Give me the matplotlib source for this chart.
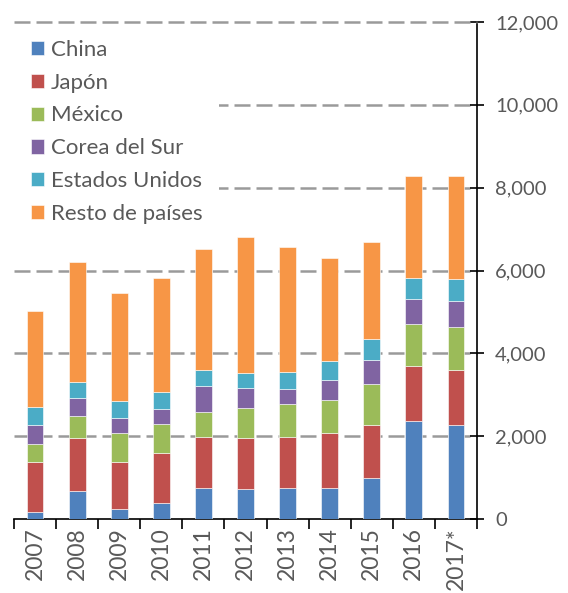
import matplotlib
matplotlib.use("Agg")
import matplotlib.pyplot as plt
import numpy as np

years = ["2007", "2008", "2009", "2010", "2011", "2012", "2013", "2014", "2015", "2016", "2017*"]
series_names = ["China", "Japón", "México", "Corea del Sur", "Estados Unidos", "Resto de países"]
china = [160, 680, 250, 395, 745, 715, 745, 745, 1000, 2370, 2275]
japon = [1220, 1275, 1130, 1200, 1235, 1240, 1235, 1320, 1275, 1315, 1315]
mexico = [440, 530, 690, 690, 595, 715, 785, 820, 975, 1025, 1050]
corea = [450, 430, 375, 370, 640, 505, 370, 465, 600, 610, 625]
eeuu = [425, 385, 395, 400, 375, 355, 410, 465, 505, 510, 520]
resto = [2330, 2895, 2625, 2765, 2930, 3285, 3015, 2485, 2325, 2455, 2485]
colors = ["#4F81BD", "#C0504D", "#9BBB59", "#8064A2", "#4BACC6", "#F79646"]

plt.rcParams['font.family'] = ['Lato', 'DejaVu Sans']
fig = plt.figure(figsize=(5.68, 5.93), dpi=100)
ax = fig.add_axes([14/568, 74/593, (477-14)/568, (519-22)/593])

x = np.arange(len(years))
bottom = np.zeros(len(years))
for name, vals, c in zip(series_names, [china, japon, mexico, corea, eeuu, resto], colors):
    ax.bar(x, vals, 0.4, bottom=bottom, color=c, label=name, edgecolor="white", linewidth=0.4, zorder=3)
    bottom += np.array(vals)

ax.set_ylim(0, 12000)
ax.set_xlim(-0.5, len(years) - 0.5)
ax.set_yticks(np.arange(0, 12001, 2000))
ax.set_yticklabels([f"{v:,}" for v in range(0, 12001, 2000)])
ax.yaxis.tick_right()
ax.tick_params(axis='y', which='major', direction='inout', length=10, width=1.2,
               labelsize=14.5, labelcolor="#595959", pad=8)
for v in range(2000, 12001, 2000):
    ax.axhline(v, color="#9A9A9A", linewidth=1.8, dashes=(6.4, 2.4),
               zorder=6 if v == 12000 else 1, clip_on=False)

ax.set_xticks(x)
ax.set_xticklabels(years, rotation=90)
ax.set_xticks(np.arange(-0.5, len(years), 1), minor=True)
ax.tick_params(axis='x', which='major', length=0, labelsize=16.5, labelcolor="#595959", pad=6)
ax.tick_params(axis='x', which='minor', direction='out', length=7, width=1.2)

for s in ["left", "top"]:
    ax.spines[s].set_visible(False)
ax.spines["right"].set_linewidth(1.2)
ax.spines["bottom"].set_linewidth(1.2)

leg = ax.legend(loc="upper left", bbox_to_anchor=(0.0, 0.998), frameon=True, fontsize=16,
                handlelength=0.6, handleheight=0.6, handletextpad=0.3,
                labelspacing=0.58, borderpad=0.75, borderaxespad=0.0)
leg.get_frame().set_edgecolor("none")
leg.get_frame().set_facecolor("white")
leg.get_frame().set_alpha(1)
leg.get_frame().set_boxstyle("square", pad=0)
leg.set_zorder(5)
for t in leg.get_texts():
    t.set_color("#595959")

fig.savefig("out.png", dpi=100)
